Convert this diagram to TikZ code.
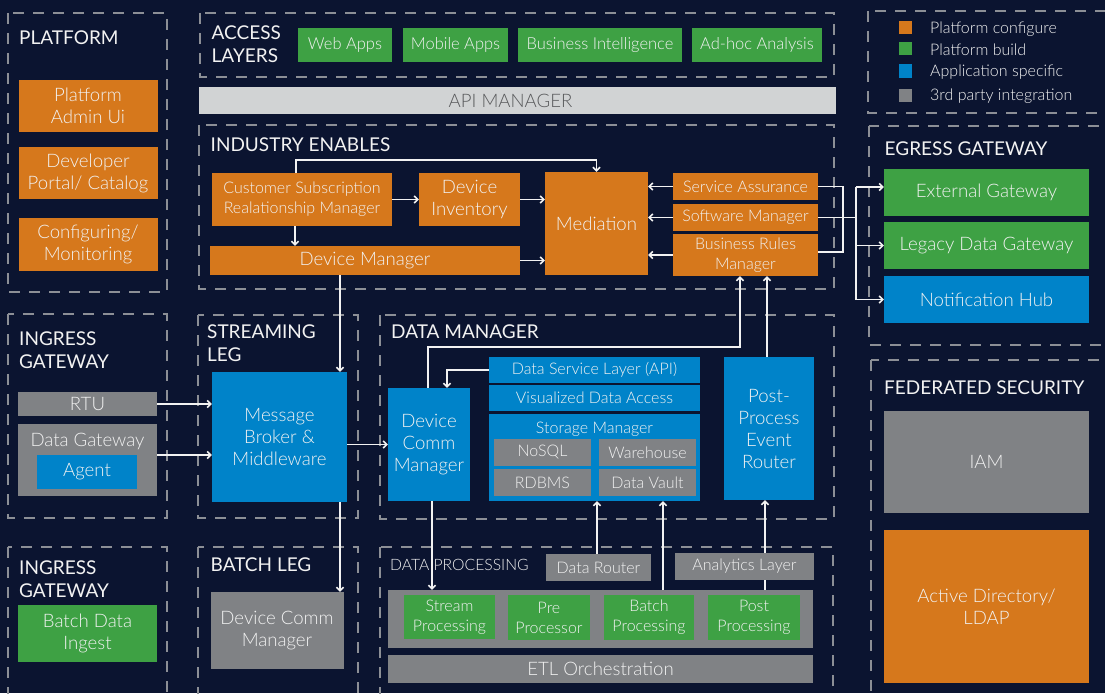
\documentclass[tikz,border=0pt]{standalone}
\usepackage{fontspec}
\setmainfont{Lato}[UprightFont=* Light]
\newfontfamily\headfamily{Lato}
\usetikzlibrary{arrows.meta,positioning}

\definecolor{navybg}{RGB}{11,20,48}
\definecolor{confcol}{RGB}{214,120,28}
\definecolor{buildcol}{RGB}{62,161,68}
\definecolor{appcol}{RGB}{0,131,201}
\definecolor{thirdcol}{RGB}{128,130,133}
\definecolor{apicol}{RGB}{209,211,212}
\definecolor{apitext}{RGB}{88,89,91}
\definecolor{dashcol}{RGB}{140,143,150}
\definecolor{inkcol}{RGB}{242,242,242}

\newcommand{\headfont}{\headfamily\fontsize{19}{22.5}\selectfont}
\newcommand{\bigfont}{\fontsize{18.6}{22}\selectfont}
\newcommand{\midfont}{\fontsize{16.5}{20}\selectfont}
\newcommand{\smallfont}{\fontsize{16}{20}\selectfont}

\tikzset{
  wh/.style n args={2}{minimum width=#1, minimum height=#2},
  block/.style={inner sep=0pt, align=center, text=inkcol, font=\bigfont},
  confbox/.style={block, fill=confcol},
  buildbox/.style={block, fill=buildcol},
  appbox/.style={block, fill=appcol},
  thirdbox/.style={block, fill=thirdcol},
  zone/.style={draw=dashcol, line width=1.3pt, dash pattern=on 11pt off 9pt},
  zonelabel/.style={anchor=north west, inner sep=0pt, align=left, text=inkcol, font=\headfont},
  legendtxt/.style={anchor=base west, inner sep=0pt, text=inkcol, font=\smallfont},
  link/.style={draw=inkcol, line width=1.6pt},
  flow/.style={link, -{Straight Barb[length=3.5pt,width=7pt]}},
}

\begin{document}
\begin{tikzpicture}[x=1pt,y=-1pt]

% Canvas
\useasboundingbox (0,0) rectangle (1105,693);
\fill[navybg] (0,0) rectangle (1105,693);
\clip (0,0) rectangle (1105,693);

% Dashed zones
\draw[zone] (8,13) rectangle (167,292);
\draw[zone] (200,13) rectangle (834,77);
\draw[zone] (199,125) rectangle (834,289);
\draw[zone] (868,11) rectangle (1115,113);
\draw[zone] (869,126) rectangle (1115,345);
\draw[zone] (871,360) rectangle (1115,710);
\draw[zone] (8,314) rectangle (167,518);
\draw[zone] (198,315) rectangle (358,518);
\draw[zone] (380,315) rectangle (834,519);
\draw[zone] (8,547) rectangle (167,710);
\draw[zone] (198,547) rectangle (358,710);
\draw[zone] (380,547) rectangle (833,710);

% Zone titles
\node[zonelabel] (tplatform) at (19,31) {PLATFORM};
\node[zonelabel] (taccess) at (211.5,26) {ACCESS\\LAYERS};
\node[zonelabel] (tindustry) at (210.5,138) {INDUSTRY ENABLES};
\node[zonelabel] (tegress) at (884.5,142) {EGRESS GATEWAY};
\node[zonelabel] (tfederated) at (884,381) {FEDERATED SECURITY};
\node[zonelabel] (tingress) at (19,332) {INGRESS\\GATEWAY};
\node[zonelabel] (tstreaming) at (207,325) {STREAMING\\LEG};
\node[zonelabel] (tdatamgr) at (391,325) {DATA MANAGER};
\node[zonelabel] (tingressb) at (19,561) {INGRESS\\GATEWAY};
\node[zonelabel] (tbatch) at (210.5,558) {BATCH LEG};
\node[zonelabel, font=\fontsize{15.7}{19}\selectfont] (tdataproc) at (390,559) {DATA PROCESSING};

% Legend
\node[confbox, wh={13}{13}] (kconf) at (905.5,27.5) {};
\node[buildbox, wh={13}{13}] (kbuild) at (905.5,49) {};
\node[appbox, wh={13}{13}] (kapp) at (905.5,71) {};
\node[thirdbox, wh={13}{13}] (kthird) at (905.5,95) {};
\node[legendtxt] (kconftxt) at (930,34) {Platform configure};
\node[legendtxt] (kbuildtxt) at (930,55.5) {Platform build};
\node[legendtxt] (kapptxt) at (930,77) {Application specific};
\node[legendtxt] (kthirdtxt) at (930,100) {3rd party integration};

% Platform
\node[confbox, wh={139}{52}] (padmin) at (88,105.5) {Platform\\Admin Ui};
\node[confbox, wh={139}{52}] (pportal) at (88,173) {Developer\\Portal/ Catalog};
\node[confbox, wh={139}{53}] (pconfig) at (88,244.5) {Configuring/\\Monitoring};

% Access layers
\node[buildbox, wh={94}{34}, font=\midfont] (webapps) at (345,45) {Web Apps};
\node[buildbox, wh={105}{34}, font=\midfont] (mobileapps) at (455.5,45) {Mobile Apps};
\node[buildbox, wh={164}{34}, font=\midfont] (bintel) at (600,45) {Business Intelligence};
\node[buildbox, wh={130}{34}, font=\midfont] (adhoc) at (757,45) {Ad-hoc Analysis};

% API manager
\node[block, fill=apicol, text=apitext, wh={637}{27}] (apimgr) at (517.5,100.5) {API MANAGER\hspace*{14pt}};

% Industry enables
\node[confbox, wh={180}{53}, font=\smallfont] (csrm) at (302,199.5) {Customer Subscription\\Realationship Manager};
\node[confbox, wh={101}{53}] (devinv) at (469.5,199.5) {Device\\Inventory};
\node[confbox, wh={310}{29}] (devmgr) at (365,260.5) {Device Manager};
\node[confbox, wh={103}{103}] (mediation) at (596.5,223.5) {Mediation};
\node[confbox, wh={145}{27}, font=\smallfont] (servass) at (745.5,186.5) {Service Assurance};
\node[confbox, wh={145}{27}, font=\smallfont] (softmgr) at (745.5,217.5) {Software Manager};
\node[confbox, wh={145}{42}, font=\smallfont] (brmgr) at (745.5,255) {Business Rules\\Manager};

% Egress gateway
\node[buildbox, wh={205}{47}] (extgw) at (986.5,192.5) {External Gateway};
\node[buildbox, wh={205}{47}] (legacygw) at (986.5,245.5) {Legacy Data Gateway};
\node[appbox, wh={205}{47}] (nothub) at (986.5,299.5) {Notification Hub};

% Federated security
\node[thirdbox, wh={205}{102}] (iam) at (986.5,462) {IAM};
\node[confbox, wh={205}{153}] (ldap) at (986.5,606.5) {Active Directory/\\LDAP};

% Ingress gateway
\node[thirdbox, wh={139}{24}] (rtu) at (87.5,404) {RTU};
\node[thirdbox, wh={139}{72}] (datagw) at (87.5,460) {};
\node[block, anchor=base] (datagwtxt) at (87.5,446.5) {Data Gateway};
\node[appbox, wh={100}{34}] (agent) at (87,472) {Agent};
\node[buildbox, wh={139}{57}] (batchingest) at (87.5,633.5) {Batch Data\\Ingest};

% Streaming and batch legs
\node[appbox, wh={135}{130}] (msgbroker) at (279.5,437) {Message\\Broker \&\\Middleware};
\node[thirdbox, wh={133}{77}] (batchdcm) at (277,630.5) {Device Comm\\Manager};

% Data manager
\node[appbox, wh={82}{113}] (dcm) at (429,444.5) {Device\\Comm\\Manager};
\node[appbox, wh={211}{26}, font=\smallfont] (dsl) at (594.5,370) {Data Service Layer (API)};
\node[appbox, wh={211}{26}, font=\smallfont] (vda) at (594.5,398) {Visualized Data Access};
\node[appbox, wh={211}{87}] (storage) at (594.5,457.5) {};
\node[block, anchor=base, font=\smallfont] (storagetxt) at (594.5,433) {Storage Manager};
\node[thirdbox, wh={97}{27}, font=\smallfont] (nosql) at (542.5,452.5) {NoSQL};
\node[thirdbox, wh={97}{27}, font=\smallfont] (warehouse) at (647.5,452.5) {Warehouse};
\node[thirdbox, wh={97}{27}, font=\smallfont] (rdbms) at (542.5,482.5) {RDBMS};
\node[thirdbox, wh={97}{27}, font=\smallfont] (datavault) at (647.5,482.5) {Data Vault};
\node[appbox, wh={90}{143}] (pper) at (769,428.5) {Post-\\Process\\Event\\Router};

% Data processing
\node[thirdbox, wh={105}{27}, font=\smallfont] (datarouter) at (598.5,567.5) {Data Router};
\node[thirdbox, wh={139}{27}, font=\smallfont] (analytics) at (744.5,566.5) {Analytics Layer};
\node[thirdbox, wh={425}{58}] (procband) at (600.5,619) {};
\node[buildbox, wh={91}{44}, font=\smallfont] (streamproc) at (449.5,617) {Stream\\Processing};
\node[buildbox, wh={82}{45}, font=\smallfont] (preproc) at (549,617.5) {Pre\\Processor};
\node[buildbox, wh={90}{45}, font=\smallfont] (batchproc) at (649,617.5) {Batch\\Processing};
\node[buildbox, wh={92}{45}, font=\smallfont] (postproc) at (754,617.5) {Post\\Processing};
\node[thirdbox, wh={425}{28}] (etl) at (600.5,669) {ETL Orchestration};

% Industry enables flows
\draw[flow] (csrm.east) -- (devinv.west);
\draw[flow] (devinv.east) -- (mediation.west |- devinv.east);
\draw[flow] (devmgr.east) -- (mediation.west |- devmgr.east);
\draw[flow] ([xshift=-6pt]csrm.north) -- ++(0,-13) -| (mediation.north);
\draw[flow] ([xshift=-7pt]csrm.south) -- ([xshift=-7pt]csrm.south |- devmgr.north);
\draw[flow] (servass.west) -- (mediation.east |- servass.west);
\draw[flow] (softmgr.west) -- (mediation.east |- softmgr.west);
\draw[flow] (brmgr.west) -- (mediation.east |- brmgr.west);

% Egress bus
\coordinate (egbus) at (856,187);
\draw[link] (servass.east) -- ++(25,0) |- ([yshift=3pt]brmgr.east);
\draw[link] (softmgr.east) -- (softmgr.east -| egbus);
\draw[link] (egbus) -- (egbus |- nothub.west);
\draw[flow] (egbus) -- (egbus -| extgw.west);
\draw[flow] (egbus |- legacygw.west) -- (legacygw.west);
\draw[flow] (egbus |- nothub.west) -- (nothub.west);

% Ingress and streaming flows
\draw[flow] ([xshift=-25pt]devmgr.south) -- ([xshift=-25pt]devmgr.south |- msgbroker.north);
\draw[flow] (rtu.east) -- (rtu.east -| msgbroker.west);
\draw[flow] ([yshift=5pt]datagw.east) -- ([yshift=5pt]datagw.east -| msgbroker.west);
\draw[flow] (msgbroker.east |- dcm.west) -- (dcm.west);
\draw[flow] ([xshift=60.5pt]msgbroker.south) -- ([xshift=60.5pt]msgbroker.south |- batchdcm.north);

% Data manager flows
\draw[flow] ([xshift=-1pt]dcm.north) -- ++(0,-41) -| ([xshift=-5.5pt]brmgr.south);
\draw[flow] ([xshift=-2pt]pper.north) -- ([xshift=-2pt]pper.north |- brmgr.south);
\draw[flow] (dsl.west) -| ([xshift=18pt]dcm.north);
\draw[flow] ([xshift=3pt]dcm.south) -- ([xshift=3pt]dcm.south |- procband.north);

% Data processing flows
\draw[flow] ([xshift=-1.5pt]datarouter.north) -- ([xshift=-1.5pt]datarouter.north |- storage.south);
\draw[flow] ([xshift=14pt]batchproc.north |- procband.north) -- ([xshift=14pt]batchproc.north |- storage.south);
\draw[link] ([xshift=20.5pt]analytics.south |- procband.north) -- ([xshift=20.5pt]analytics.south);
\draw[flow] ([xshift=20.5pt]analytics.north) -- ([xshift=20.5pt]analytics.north |- pper.south);

\end{tikzpicture}
\end{document}
